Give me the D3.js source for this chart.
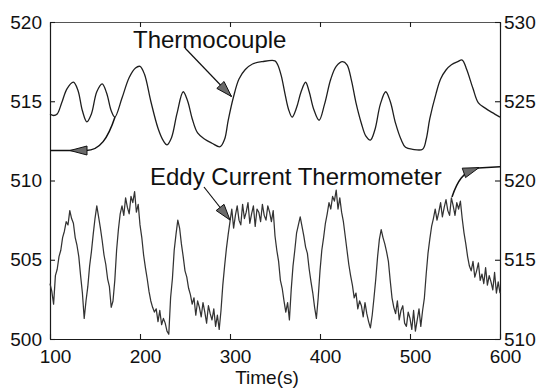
<!DOCTYPE html>
<html><head><meta charset="utf-8">
<script src="https://cdn.jsdelivr.net/npm/d3@7"></script>
<style>
body{margin:0;background:#fff}
svg{display:block}
text{font-family:"Liberation Sans",Arial,Helvetica,sans-serif;fill:#111}
</style></head>
<body><svg id="c" width="542" height="389"></svg>
<script>
// ---- data ----
const xTicks = [100, 200, 300, 400, 500, 600];
const leftTicks = [500, 505, 510, 515, 520];
const rightTicks = [510, 515, 520, 525, 530];

// Thermocouple (left axis)
const thermoTime = [100,104,108,113,119,126,131,136,141,146,152,158,163,168,172,180,188,195,200,205,212,220,226,230,235,241,248,253,258,264,272,280,289,294,298,304,310,317,325,336,350,353,357,361,365,369,374,379,384,388,393,399,405,412,418,425,430,435,440,446,451,456,461,467,473,478,484,490,495,503,514,518,522,529,534,540,546,553,558,563,570,576,584,591,600];
const thermoTemp = [514.2,514.1,514.2,514.9,515.8,516.2,515.7,514.4,513.7,514.2,515.6,516.1,515.5,514.4,514.0,515.2,516.5,517.1,517.2,516.7,515.0,513.3,512.5,512.25,512.7,514.2,515.6,515.0,513.9,513.0,512.6,512.35,512.13,512.6,513.8,515.3,516.4,517.0,517.35,517.5,517.55,517.3,516.6,515.5,514.5,514.0,514.6,515.6,516.2,515.6,514.5,513.8,514.8,516.4,517.2,517.5,517.3,516.3,514.9,513.6,512.8,512.55,513.2,514.8,515.6,515.0,513.6,512.6,512.1,511.97,511.97,512.6,513.9,515.5,516.4,516.97,517.3,517.5,517.6,517.0,515.8,514.9,514.55,514.3,514.0];

// Eddy current thermometer (right axis), sampled every 2 s from 100 s to 600 s
const eddyTime = d3.range(100, 601, 2);
const eddyTemp = [
513.5,513.0,512.2,514.0,514.4,515.2,515.6,516.4,516.8,517.4,
517.2,518.1,517.6,517.3,516.4,515.9,515.2,514.0,512.9,511.3,
512.4,513.3,514.6,515.5,516.6,517.6,518.4,517.7,517.0,516.2,
515.3,514.7,513.8,513.3,512.0,512.4,513.7,515.6,516.9,517.9,
518.4,517.8,518.9,518.3,517.9,519.0,518.6,519.3,518.0,518.5,
517.2,516.4,515.3,514.5,513.8,513.0,512.4,512.0,511.7,511.9,
511.1,511.8,510.9,511.3,511.0,510.5,510.3,512.6,513.8,515.6,
516.6,517.5,517.0,516.0,515.2,514.3,513.9,513.2,512.8,512.2,
512.6,511.5,512.4,512.0,511.4,512.3,511.7,511.0,512.1,511.6,
511.2,511.9,510.8,511.5,510.6,511.8,513.4,514.6,515.7,516.6,
517.4,518.2,517.0,517.8,518.4,517.5,517.2,518.5,517.6,518.0,
518.6,517.3,517.9,518.4,517.1,518.2,518.0,517.4,518.5,517.8,
517.5,518.4,518.0,517.4,518.1,516.5,515.6,514.9,513.7,513.2,
512.4,511.7,512.3,511.2,513.1,514.6,515.6,516.7,517.2,517.7,
517.1,516.5,515.8,515.4,514.4,513.6,512.9,512.0,511.3,512.6,
514.3,515.6,516.4,517.3,517.9,518.6,518.2,519.0,518.7,519.4,
518.2,518.9,518.0,517.4,516.5,515.6,514.7,514.0,513.4,512.6,
512.9,511.9,512.4,512.1,511.4,512.3,511.6,511.1,510.7,511.5,
512.6,513.8,515.2,516.3,516.9,516.4,516.0,515.5,514.9,513.7,
512.6,512.0,511.6,512.4,511.2,511.8,512.1,511.0,510.8,511.7,
511.3,510.6,511.8,510.5,511.2,511.9,510.8,511.8,512.6,514.1,
515.4,516.3,517.1,517.6,518.2,517.5,518.0,518.6,517.7,518.3,
518.8,518.1,517.8,518.9,518.4,517.8,518.6,518.2,518.7,517.6,
516.7,516.0,515.2,514.6,514.3,514.9,513.9,514.3,514.8,513.7,
514.1,513.5,514.5,513.4,514.0,513.6,513.1,514.2,512.9,513.6,
512.9];

const labels = {thermo: "Thermocouple", eddy: "Eddy Current Thermometer", xAxis: "Time(s)"};

// ---- chart ----
const svg = d3.select("#c");
const L = 50, R = 500, T = 22, B = 339;
const x = d3.scaleLinear().domain([100, 600]).range([L, R]);
const yL = d3.scaleLinear().domain([500, 520]).range([B, T]);
const yR = d3.scaleLinear().domain([510, 530]).range([B, T]);

svg.append("rect").attr("width", 542).attr("height", 389).attr("fill", "#fff");

function styleAxis(g, fs) {
  g.attr("font-family", null).attr("font-size", null);
  g.selectAll("path.domain").attr("stroke", "#1a1a1a").attr("stroke-width", 1.2);
  g.selectAll(".tick line").attr("stroke", "#1a1a1a").attr("stroke-width", 1.1);
  g.selectAll(".tick text").style("font-size", fs + "px").attr("fill", "#111");
}

const gB = svg.append("g").attr("transform", `translate(0,${B})`)
  .call(d3.axisBottom(x).tickValues(xTicks).tickSize(-5).tickSizeOuter(0).tickPadding(11));
styleAxis(gB, 19);
gB.selectAll(".tick text").attr("x", 5);

const gT = svg.append("g").attr("transform", `translate(0,${T})`)
  .call(d3.axisTop(x).tickValues(xTicks).tickSize(-5).tickSizeOuter(0).tickFormat(""));
styleAxis(gT, 19);
gT.selectAll("path.domain").attr("stroke", "#555").attr("stroke-width", 1);

const gL = svg.append("g").attr("transform", `translate(${L},0)`)
  .call(d3.axisLeft(yL).tickValues(leftTicks).tickSize(-5).tickSizeOuter(0).tickPadding(8));
styleAxis(gL, 19);

const gR = svg.append("g").attr("transform", `translate(${R},0)`)
  .call(d3.axisRight(yR).tickValues(rightTicks).tickSize(-5).tickSizeOuter(0).tickPadding(4));
styleAxis(gR, 19);

svg.append("text").attr("x", 267).attr("y", 384).attr("text-anchor", "middle")
  .style("font-size", "19px").text(labels.xAxis);

// eddy current line
const eddyLine = d3.line().x((d, i) => x(eddyTime[i])).y(d => yR(d));
svg.append("path").datum(eddyTemp).attr("d", eddyLine)
  .attr("fill", "none").attr("stroke", "#333").attr("stroke-width", 1.25)
  .attr("stroke-linejoin", "round");

// thermocouple line
const thermoLine = d3.line().x((d, i) => x(thermoTime[i])).y(d => yL(d))
  .curve(d3.curveCatmullRom.alpha(0.5));
svg.append("path").datum(thermoTemp).attr("d", thermoLine)
  .attr("fill", "none").attr("stroke", "#1e1e1e").attr("stroke-width", 1.3);

// annotations
svg.append("text").attr("x", 133).attr("y", 47.5).style("font-size", "24px").text(labels.thermo);
svg.append("text").attr("x", 150).attr("y", 185).style("font-size", "24px").text(labels.eddy);

function arrowHead(tx, ty, fx, fy, len, hw) {
  const dx = tx - fx, dy = ty - fy, n = Math.hypot(dx, dy);
  const ux = dx / n, uy = dy / n;
  const bx = tx - ux * len, by = ty - uy * len;
  const px = -uy * hw, py = ux * hw;
  svg.append("path")
    .attr("d", `M${tx},${ty}L${bx + px},${by + py}L${bx - px},${by - py}Z`)
    .attr("fill", "#6a6a6a").attr("stroke", "#111").attr("stroke-width", 1);
  return [bx, by];
}
function pointer(fx, fy, tx, ty) {
  svg.append("line").attr("x1", fx).attr("y1", fy).attr("x2", tx).attr("y2", ty)
    .attr("stroke", "#111").attr("stroke-width", 1.2);
  arrowHead(tx, ty, fx, fy, 16, 5);
}
pointer(185, 48, 231.5, 96.5);
pointer(204, 187, 230, 220);

// connector from thermocouple curve to left axis
svg.append("path").attr("d", "M115,117 C108,138 100,150.5 86,150.5 L50,150.5")
  .attr("fill", "none").attr("stroke", "#111").attr("stroke-width", 1.5);
arrowHead(70, 150.5, 90, 150.5, 17, 4.5);

// connector from eddy curve to right axis
svg.append("path").attr("d", "M452,197 C457,182 463,171 478,168 L500,166.8")
  .attr("fill", "none").attr("stroke", "#111").attr("stroke-width", 1.5);
arrowHead(479, 167.6, 465, 172.5, 16, 5);
</script>
</body></html>
